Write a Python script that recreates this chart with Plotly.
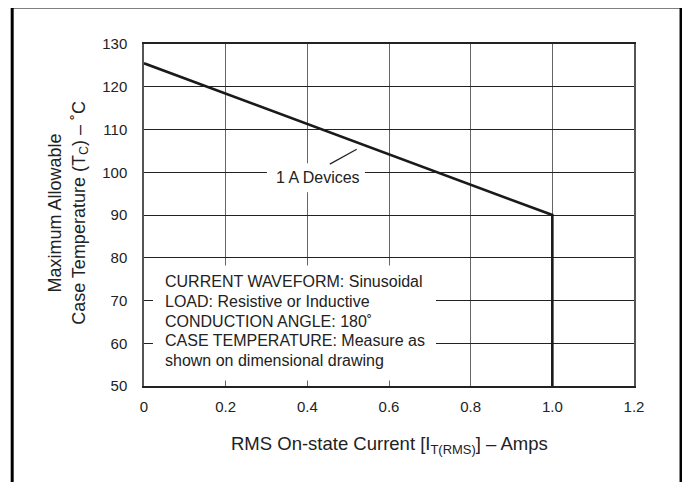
import plotly.graph_objects as go

# Data
current_amps = [0.0, 1.0, 1.0]
case_temp_c = [125.5, 90.0, 50.0]
x_ticks = [0, 0.2, 0.4, 0.6, 0.8, 1.0, 1.2]
x_tick_labels = ["0", "0.2", "0.4", "0.6", "0.8", "1.0", "1.2"]
y_ticks = [50, 60, 70, 80, 90, 100, 110, 120, 130]
y_tick_labels = [str(v) for v in y_ticks]
series_label = "1 A Devices"
note_lines = [
    "CURRENT WAVEFORM: Sinusoidal",
    "LOAD: Resistive or Inductive",
    "CONDUCTION ANGLE: 180˚",
    "CASE TEMPERATURE: Measure as",
    "shown on dimensional drawing",
]

FONT = "Liberation Sans, Arial, sans-serif"

fig = go.Figure()
fig.add_trace(go.Scatter(
    x=current_amps, y=case_temp_c, mode="lines",
    line=dict(color="#1a1a1a", width=2.6), showlegend=False, hoverinfo="skip",
))

shapes = []
# white masks over gridlines
shapes.append(dict(type="rect", xref="x", yref="y", x0=0.022, x1=0.715, y0=51.3, y1=78.2,
                   fillcolor="white", line=dict(width=0), layer="above"))
shapes.append(dict(type="rect", xref="x", yref="y", x0=0.301, x1=0.541, y0=95.3, y1=102.1,
                   fillcolor="white", line=dict(width=0), layer="above"))
# leader line
shapes.append(dict(type="line", xref="x", yref="y", x0=0.455, y0=101.9, x1=0.521, y1=105.4,
                   line=dict(color="#222", width=1.2), layer="above"))
# outer border
shapes.append(dict(type="rect", xref="paper", yref="paper", x0=-0.269, x1=1.096, y0=-0.32, y1=1.108,
                   line=dict(color="black", width=3), fillcolor="rgba(0,0,0,0)", layer="above"))

annotations = []
annotations.append(dict(x=0.426, y=98.7, xref="x", yref="y", text=series_label, showarrow=False,
                        font=dict(family=FONT, size=16, color="#222"), xanchor="center", yanchor="middle"))
first_line_y = 74.33
line_step = 4.59
for i, line in enumerate(note_lines):
    annotations.append(dict(x=0.0465, y=first_line_y - i * line_step, xref="x", yref="y", text=line,
                            showarrow=False, align="left", xanchor="left", yanchor="middle",
                            font=dict(family=FONT, size=16, color="#222")))
annotations.append(dict(x=0.5, y=-0.1725, xref="paper", yref="paper",
                        text="RMS On-state Current [I<sub>T(RMS)</sub>] – Amps", showarrow=False,
                        xanchor="center", yanchor="middle", font=dict(family=FONT, size=18.5, color="#222")))
annotations.append(dict(x=-0.154, y=0.505, xref="paper", yref="paper",
                        text="Maximum Allowable<br>Case Temperature (T<sub>C</sub>) – ˚C", showarrow=False,
                        textangle=-90, xanchor="center", yanchor="middle",
                        font=dict(family=FONT, size=18, color="#222")))

fig.update_layout(
    width=682, height=474,
    margin=dict(l=136, r=56, t=36, b=96),
    paper_bgcolor="white", plot_bgcolor="white",
    shapes=shapes, annotations=annotations,
    font=dict(family=FONT, size=15, color="#222"),
    xaxis=dict(range=[0, 1.2], tickvals=x_ticks, ticktext=x_tick_labels,
               showgrid=True, gridcolor="#666", gridwidth=1,
               showline=True, linecolor="#222", linewidth=1.5, mirror=True,
               ticks="outside", ticklen=6, tickcolor="rgba(0,0,0,0)",
               zeroline=False, fixedrange=True),
    yaxis=dict(range=[50, 130], tickvals=y_ticks, ticktext=y_tick_labels,
               showgrid=True, gridcolor="#222", gridwidth=1,
               showline=True, linecolor="#555", linewidth=1.5, mirror=True,
               ticks="outside", ticklen=12, tickcolor="rgba(0,0,0,0)",
               zeroline=False, fixedrange=True),
)

fig.write_html("out.html")
